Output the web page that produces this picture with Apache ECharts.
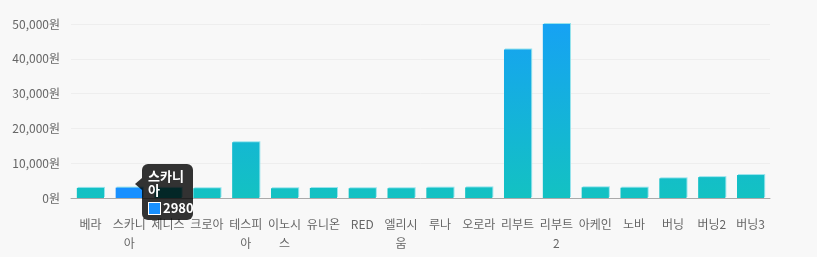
<!DOCTYPE html>
<html><head><meta charset="utf-8">
<script src="https://cdn.jsdelivr.net/npm/echarts@6/dist/echarts.min.js"></script>
<style>html,body{margin:0;padding:0;background:#f8f8f8;}#c{width:817px;height:257px;}</style>
</head><body><div id="c"></div>
<script>
const categories = ['베라','스카니아','제니스','크로아','테스피아','이노시스','유니온','RED','엘리시움','루나','오로라','리부트','리부트2','아케인','노바','버닝','버닝2','버닝3'];
const prices = [2900, 2980, 2900, 2800, 16000, 2800, 2870, 2800, 2800, 2960, 3050, 42700, 50000, 3080, 2960, 5650, 6000, 6600];
const yTicks = [0, 10000, 20000, 30000, 40000, 50000];
const font = '"Noto Sans CJK KR", "Noto Sans", sans-serif';
const cssFont = font.replace(/"/g, "'");

const chart = echarts.init(document.getElementById('c'), null, {renderer: 'canvas'});
chart.setOption({
  backgroundColor: '#f8f8f8',
  animation: false,
  textStyle: {fontFamily: font},
  grid: {left: 71, right: 47, top: 24, bottom: 59},
  tooltip: {
    trigger: 'item',
    backgroundColor: 'rgba(0,0,0,0.8)',
    borderWidth: 0,
    padding: [4, 6, 4, 6],
    position: [142, 164],
    extraCssText: 'border-radius:6px;box-shadow:none;',
    formatter: function (p) {
      return '<div style="position:relative;width:39px;">' +
        '<div style="position:absolute;left:-13px;top:10px;width:0;height:0;border-top:6px solid transparent;border-bottom:6px solid transparent;border-right:7px solid rgba(0,0,0,0.8);"></div>' +
        '<div style="color:#fff;font-weight:bold;font-size:13px;line-height:14px;padding-top:1px;font-family:' + cssFont + ';word-break:break-all;white-space:normal;width:39px;">' + p.name + '</div>' +
        '<div style="margin-top:3px;color:#fff;font-weight:bold;font-size:13px;line-height:16px;white-space:nowrap;font-family:' + cssFont + ';">' +
        '<span style="display:inline-block;width:11px;height:11px;background:#1890ff;border:1px solid #fff;vertical-align:-2px;margin-right:2px;"></span>' + p.value + '</div></div>';
    }
  },
  xAxis: {
    type: 'category',
    data: categories,
    axisLine: {lineStyle: {color: '#aaaaaa'}},
    axisTick: {length: 9, lineStyle: {color: '#e0e0e0'}},
    axisLabel: {color: '#666', fontSize: 12, margin: 17, width: 38, overflow: 'break', lineHeight: 19, interval: 0}
  },
  yAxis: {
    type: 'value',
    min: 0, max: 50000, interval: 10000,
    axisLine: {show: false},
    axisTick: {show: false},
    splitLine: {lineStyle: {color: '#eeeeee'}},
    axisLabel: {color: '#666', fontSize: 12, margin: 11, formatter: function (v) { return v.toLocaleString('en-US') + '원'; }}
  },
  series: [{
    type: 'bar',
    data: prices,
    barWidth: '70%',
    itemStyle: {
      color: new echarts.graphic.LinearGradient(0, 24, 0, 198, [
        {offset: 0, color: '#16a2f3'},
        {offset: 1, color: '#13c2c2'}
      ], true),
      shadowColor: 'rgba(140,225,235,0.9)',
      shadowOffsetX: 1,
      shadowOffsetY: -1,
      shadowBlur: 0
    },
    emphasis: {itemStyle: {color: '#1890ff'}}
  }]
});
chart.dispatchAction({type: 'highlight', seriesIndex: 0, dataIndex: 1});
chart.dispatchAction({type: 'showTip', seriesIndex: 0, dataIndex: 1});
</script></body></html>
